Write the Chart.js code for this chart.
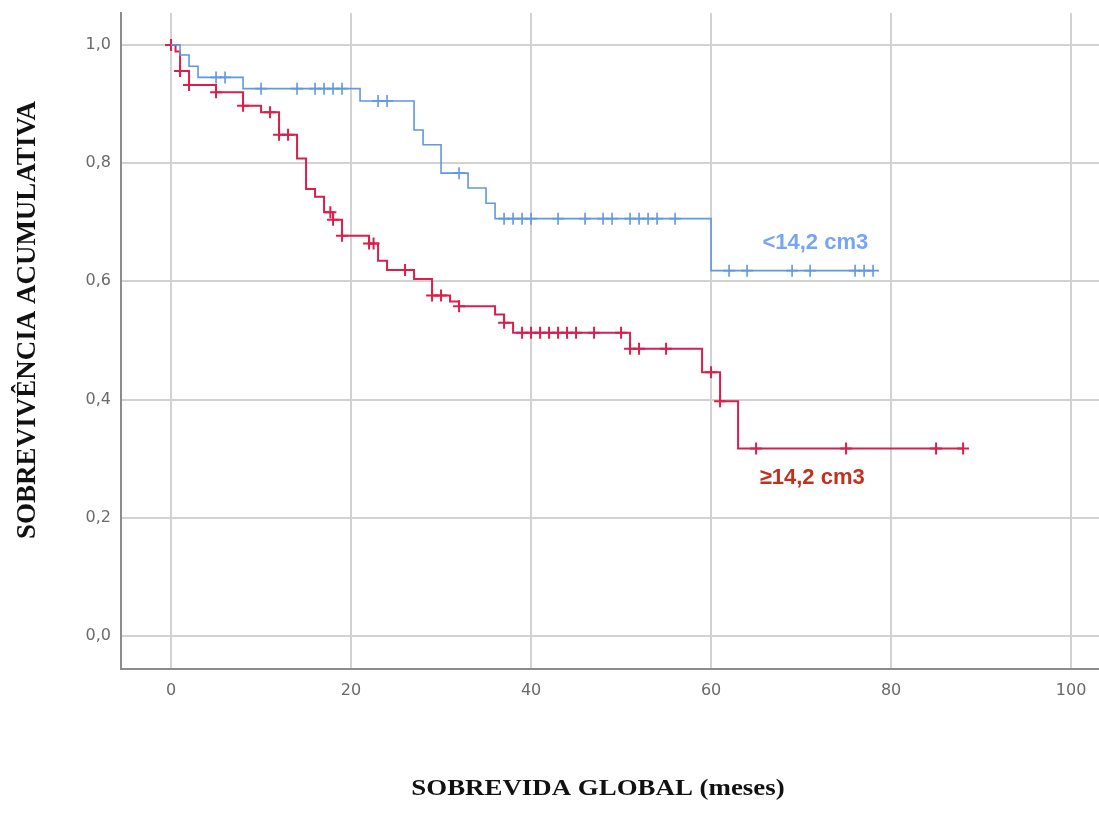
<!DOCTYPE html>
<html lang="pt">
<head>
  <meta charset="UTF-8" />
  <title>Sobrevida global</title>
  <script src="https://cdn.jsdelivr.net/npm/chart.js"></script>
  <style>
    * { margin: 0; padding: 0; box-sizing: border-box; }
    body { background: #fff; }
    #wrap { width: 1099px; height: 814px; }
  </style>
</head>
<body>
  <div id="wrap"><canvas id="km" width="1099" height="814"></canvas></div>

  <script>
    // Kaplan-Meier: tempo do evento (meses) e sobrevivência logo após
    const blueTimes = [0, 1, 2, 3, 8, 21, 27, 28, 30, 33, 35, 36, 60, 78];
    const blueSurv = [1.0, 0.983, 0.964, 0.945, 0.926, 0.905, 0.856, 0.831, 0.783, 0.758, 0.732, 0.706, 0.618, 0.618];
    const blueCensored = [5, 6, 10, 14, 16, 17, 18, 19, 23, 24, 32, 37, 38, 39, 40, 43, 46, 48, 49, 51, 52, 53, 54, 56, 62, 64, 69, 71, 76, 77, 78];

    const redTimes = [0, 0.5, 1, 2, 5, 8, 10, 12, 14, 15, 16, 17, 18, 19, 22, 23, 24, 27, 29, 31, 32, 36, 37, 38, 51, 59, 61, 63, 88];
    const redSurv = [1.0, 0.989, 0.956, 0.932, 0.920, 0.897, 0.886, 0.848, 0.808, 0.756, 0.743, 0.717, 0.704, 0.677, 0.664, 0.635, 0.619, 0.604, 0.576, 0.566, 0.558, 0.544, 0.530, 0.513, 0.486, 0.446, 0.397, 0.317, 0.317];
    const redCensored = [0, 1, 2, 5, 8, 11, 12, 13, 17.7, 18, 19, 22, 22.5, 26, 29, 30, 32, 37, 39, 40, 41, 42, 43, 44, 45, 47, 50, 51, 52, 55, 60, 61, 65, 75, 85, 88];

    const groupLabels = ['<14,2 cm3', '≥14,2 cm3'];
    const xTitle = 'SOBREVIDA GLOBAL (meses)';
    const yTitle = 'SOBREVIVÊNCIA ACUMULATIVA';
    const xTicks = [0, 20, 40, 60, 80, 100];
    const yTicks = [0, 0.2, 0.4, 0.6, 0.8, 1.0];

    const blueLine = '#5f97e3';
    const redLine = '#db1f4b';

    // valor da curva num instante (para pôr as cruzes de censura em cima da linha)
    function survAt(times, surv, t) {
      let s = surv[0];
      for (let i = 0; i < times.length; i++) {
        if (times[i] <= t) s = surv[i];
      }
      return s;
    }

    const toPoints = (times, surv) => times.map((t, i) => ({ x: t, y: surv[i] }));
    const censorPoints = (cens, times, surv) => cens.map(t => ({ x: t, y: survAt(times, surv, t) }));

    // rótulos dos grupos e títulos dos eixos
    const textPlugin = {
      id: 'kmText',
      afterDatasetsDraw(chart) {
        const { ctx, scales: { x, y } } = chart;
        ctx.save();
        ctx.font = 'bold 22px "Liberation Sans", Arial, sans-serif';
        ctx.textAlign = 'left';
        ctx.textBaseline = 'middle';
        ctx.fillStyle = '#76a5f2';
        ctx.fillText(groupLabels[0], x.getPixelForValue(65.7), y.getPixelForValue(0.665));
        ctx.fillStyle = '#c0321e';
        ctx.fillText(groupLabels[1], x.getPixelForValue(65.4), y.getPixelForValue(0.268));
        ctx.restore();

        ctx.save();
        ctx.fillStyle = '#111';
        ctx.textAlign = 'center';
        ctx.textBaseline = 'middle';
        ctx.font = 'bold 24px "Liberation Serif", "Times New Roman", serif';
        ctx.translate(598, 789);
        ctx.scale(1.12, 1);
        ctx.fillText(xTitle, 0, 0);
        ctx.restore();

        ctx.save();
        ctx.fillStyle = '#111';
        ctx.textAlign = 'center';
        ctx.textBaseline = 'middle';
        ctx.font = 'bold 27px "Liberation Serif", "Times New Roman", serif';
        ctx.translate(28, 320);
        ctx.rotate(-Math.PI / 2);
        ctx.fillText(yTitle, 0, 0);
        ctx.restore();
      }
    };

    new Chart(document.getElementById('km'), {
      type: 'line',
      data: {
        datasets: [
          {
            data: toPoints(blueTimes, blueSurv),
            borderColor: blueLine,
            borderWidth: 1.6,
            stepped: 'before',
            pointRadius: 0
          },
          {
            data: toPoints(redTimes, redSurv),
            borderColor: redLine,
            borderWidth: 2,
            stepped: 'before',
            pointRadius: 0
          },
          {
            data: censorPoints(blueCensored, blueTimes, blueSurv),
            showLine: false,
            pointStyle: 'cross',
            pointRadius: 6,
            pointBorderWidth: 1.6,
            pointBorderColor: blueLine
          },
          {
            data: censorPoints(redCensored, redTimes, redSurv),
            showLine: false,
            pointStyle: 'cross',
            pointRadius: 6,
            pointBorderWidth: 2,
            pointBorderColor: redLine
          }
        ]
      },
      options: {
        responsive: false,
        animation: false,
        devicePixelRatio: 1,
        layout: { autoPadding: false, padding: { top: 13, left: 0, right: 0, bottom: 0 } },
        plugins: {
          legend: { display: false },
          tooltip: { enabled: false }
        },
        scales: {
          x: {
            type: 'linear',
            min: -5.56,
            max: 103.1,
            afterBuildTicks: s => { s.ticks = xTicks.map(v => ({ value: v })); },
            afterFit: s => {
              s.height = 145;
              s.paddingLeft = 0;
              s.paddingRight = 0;
            },
            grid: { color: '#d2d2d2', lineWidth: 2, drawTicks: false },
            border: { color: '#8c8c8c', width: 2 },
            ticks: {
              padding: 12,
              color: '#6a6a6a',
              font: { family: '"DejaVu Sans"', size: 16 },
              maxRotation: 0
            },
            title: { display: false }
          },
          y: {
            type: 'linear',
            min: -0.056,
            max: 1.054,
            afterBuildTicks: s => { s.ticks = yTicks.map(v => ({ value: v })); },
            afterFit: s => {
              s.width = 121;
              s.paddingTop = 0;
              s.paddingBottom = 0;
            },
            grid: { color: '#d2d2d2', lineWidth: 2, drawTicks: false },
            border: { color: '#8c8c8c', width: 2 },
            ticks: {
              padding: 10,
              color: '#6a6a6a',
              font: { family: '"DejaVu Sans"', size: 16 },
              callback: v => v.toFixed(1).replace('.', ',')
            },
            title: { display: false }
          }
        }
      },
      plugins: [textPlugin]
    });
  </script>
</body>
</html>
